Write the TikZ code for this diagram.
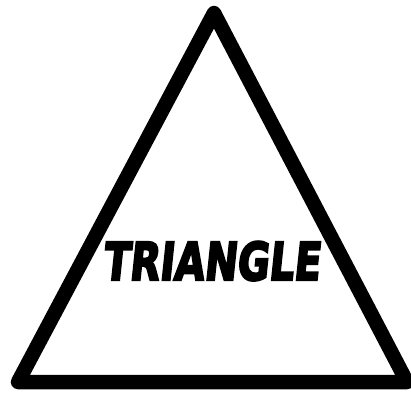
\documentclass[tikz,border=0pt]{standalone}
\usepackage{fontspec}
\newfontfamily\signfont[FakeBold=4.5]{DejaVu Sans Bold}
\begin{document}
\begin{tikzpicture}[x=1pt,y=1pt,
  edge/.style={line width=14.5pt,line join=round,line cap=round},
  label/.style={font=\signfont\fontsize{52}{60}\selectfont,
    inner sep=0pt,xscale=.75,xslant=.14,transform shape}]
  \useasboundingbox (0,0) rectangle (411,394);
  \coordinate (apex) at (214,381);
  \coordinate (left) at (18,12);
  \coordinate (right) at (407,12);
  \draw[edge] (left) -- (apex) -- (right) -- cycle;
  \node[label,anchor=base] (name) at (211,114) {TRIANGLE};
\end{tikzpicture}
\end{document}
